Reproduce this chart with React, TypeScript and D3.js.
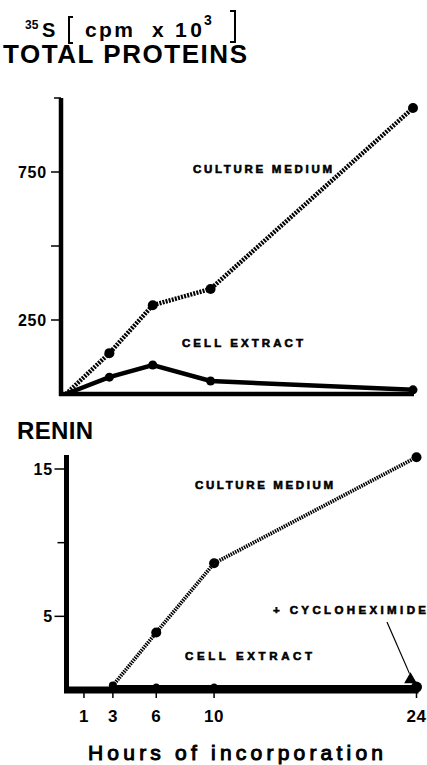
import React from "react";
import * as d3 from "d3";

// hours of incorporation
const hourTicks = [1, 3, 6, 10, 24];

// total proteins (cpm x 10^3)
const totalHours = [0, 3, 6, 10, 24];
const totalMedium = [0, 138, 300, 355, 966];
const totalCell = [0, 57, 98, 44, 14];
const totalTicks = [250, 500, 750, 1000];
const totalTickLabels = ["250", "", "750", ""];

// renin (cpm x 10^3)
const reninHours = [3, 6, 10, 24];
const reninMedium = [0.3, 3.9, 8.6, 15.8];
const reninCell = [0.2, 0.2, 0.2, 0.2];
const cycloHours = [24];
const cycloValues = [0.5];
const reninTicks = [5, 10, 15];
const reninTickLabels = ["5", "", "15"];

const FONT = "'Liberation Sans', Arial, Helvetica, sans-serif";

type Pt = [number, number];
const zip = (xs: number[], ys: number[]): Pt[] => xs.map((x, i) => [x, ys[i]]);

const App = () => {
    const width = 427;
    const height = 765;

    // top panel scales
    const xTop = d3.scaleLinear().domain([0, 24]).range([66, 413]);
    const yTop = d3.scaleLinear().domain([0, 1000]).range([394, 98]);
    // bottom panel scales
    const xBot = d3.scaleLinear().domain([0, 24]).range([69.5, 416.5]);
    const yBot = d3.scaleLinear().domain([0, 15]).range([690, 469]);

    const lineTop = d3.line<Pt>().x((d) => xTop(d[0])).y((d) => yTop(d[1]));
    const lineBot = d3.line<Pt>().x((d) => xBot(d[0])).y((d) => yBot(d[1]));

    const topAxisX = xTop(0) - 5;
    const botAxisX = xBot(0) - 3;

    const label = (t: string, x: number, y: number, len: number) => (
        <text x={x} y={y} fontSize={11.5} fontWeight="bold" stroke="black" strokeWidth={0.6}
            textLength={len} lengthAdjust="spacing">{t}</text>
    );

    const cx = xBot(cycloHours[0]) - 6;
    const cy = yBot(cycloValues[0]);

    return (
        <svg width={width} height={height} style={{ position: "absolute", left: 0, top: 0, background: "white" }}
            fontFamily={FONT}>
            {/* title */}
            <text x={25} y={29} fontSize={12} fontWeight="bold">35</text>
            <text x={42} y={37} fontSize={20} fontWeight="bold">S</text>
            <path d="M73,17 H69 V43 H73" fill="none" stroke="black" strokeWidth={2} />
            <text x={85} y={37} fontSize={21} fontWeight="bold" textLength={48} lengthAdjust="spacing">cpm</text>
            <text x={152} y={37} fontSize={21} fontWeight="bold">x</text>
            <text x={175} y={37} fontSize={21} fontWeight="bold" textLength={27} lengthAdjust="spacing">10</text>
            <text x={204} y={25} fontSize={14} fontWeight="bold">3</text>
            <path d="M230,11 H235 V42 H230" fill="none" stroke="black" strokeWidth={2} />

            <text x={3} y={63} fontSize={26} fontWeight="bold" textLength={244} lengthAdjust="spacing">TOTAL PROTEINS</text>

            {/* top panel axes */}
            <line x1={topAxisX} x2={topAxisX} y1={yTop(1000)} y2={yTop(0) + 2} stroke="black" strokeWidth={4.5} />
            <line x1={topAxisX - 2} x2={xTop(24) + 1} y1={yTop(0)} y2={yTop(0)} stroke="black" strokeWidth={4.5} />
            {totalTicks.map((t, i) => (
                <g key={t}>
                    <line x1={topAxisX - (i === 3 ? 7 : 10)} x2={topAxisX} y1={yTop(t)} y2={yTop(t)} stroke="black" strokeWidth={1.5} />
                    {totalTickLabels[i] && (
                        <text x={47} y={yTop(t) + 5.5} fontSize={16} fontWeight="bold" textAnchor="end" letterSpacing={0.8}>{totalTickLabels[i]}</text>
                    )}
                </g>
            ))}

            {/* top panel series */}
            <path d={lineTop(zip(totalHours, totalMedium)) || ""} fill="none" stroke="black" strokeWidth={4.5} strokeDasharray="2 1.2" />
            <path d={lineTop(zip(totalHours, totalCell)) || ""} fill="none" stroke="black" strokeWidth={4.5} />
            {totalHours.slice(1).map((h, i) => (
                <circle key={"m" + h} cx={xTop(h)} cy={yTop(totalMedium[i + 1])} r={5} fill="black" />
            ))}
            {totalHours.slice(1).map((h, i) => (
                <circle key={"c" + h} cx={xTop(h)} cy={yTop(totalCell[i + 1])} r={4.5} fill="black" />
            ))}
            {label("CULTURE MEDIUM", 193, 173, 139)}
            {label("CELL EXTRACT", 182, 347, 121)}

            {/* bottom panel */}
            <text x={17} y={439} fontSize={24} fontWeight="bold" textLength={76} lengthAdjust="spacing">RENIN</text>

            <line x1={botAxisX} x2={botAxisX} y1={455} y2={yBot(0) + 3} stroke="black" strokeWidth={5} />
            <line x1={botAxisX - 2.5} x2={xBot(24) + 2} y1={yBot(0)} y2={yBot(0)} stroke="black" strokeWidth={7} />
            {reninTicks.map((t, i) => (
                <g key={t}>
                    <line x1={botAxisX - (i === 1 ? 9 : 12)} x2={botAxisX} y1={yBot(t)} y2={yBot(t)} stroke="black" strokeWidth={1.5} />
                    {reninTickLabels[i] && (
                        <text x={53} y={yBot(t) + 5.5} fontSize={16} fontWeight="bold" textAnchor="end" letterSpacing={0.8}>{reninTickLabels[i]}</text>
                    )}
                </g>
            ))}
            {hourTicks.map((h) => (
                <g key={h}>
                    <line x1={xBot(h)} x2={xBot(h)} y1={yBot(0)} y2={yBot(0) + 8} stroke="black" strokeWidth={1.5} />
                    <text x={xBot(h)} y={722} fontSize={17} fontWeight="bold" textAnchor="middle" letterSpacing={0.5}>{h}</text>
                </g>
            ))}

            <path d={lineBot(zip(reninHours, reninMedium)) || ""} fill="none" stroke="black" strokeWidth={3.8} strokeDasharray="1.5 1" />
            {reninHours.map((h, i) => (
                <circle key={"rm" + h} cx={xBot(h)} cy={yBot(reninMedium[i])} r={i === 0 ? 4 : 5} fill="black" />
            ))}
            <path d={lineBot(zip(reninHours, reninCell)) || ""} fill="none" stroke="black" strokeWidth={4} />
            {reninHours.map((h, i) => (
                <circle key={"rc" + h} cx={xBot(h)} cy={yBot(reninCell[i])} r={i === 3 ? 5.5 : 3.5} fill="black" />
            ))}
            <path d={d3.symbol(d3.symbolTriangle, 70)() || ""} transform={`translate(${cx},${cy - 3})`} fill="black" />

            {label("CULTURE MEDIUM", 195, 489, 138)}
            {label("CELL EXTRACT", 185, 660, 127)}
            {label("+ CYCLOHEXIMIDE", 273, 614, 153)}
            <line x1={387} y1={622} x2={cx - 1} y2={cy - 9} stroke="black" strokeWidth={1.2} />

            <text x={88} y={760} fontSize={21} stroke="black" strokeWidth={1} textLength={295} lengthAdjust="spacing">Hours of incorporation</text>
        </svg>
    );
};

export default App;
